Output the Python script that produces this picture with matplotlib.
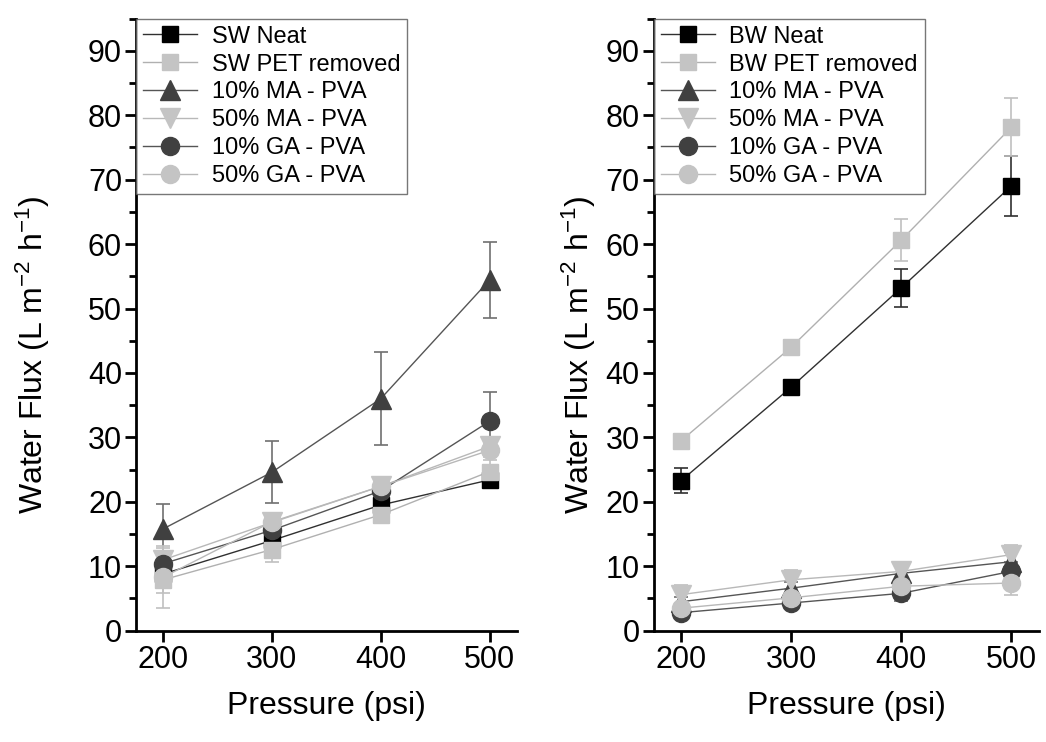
import matplotlib
matplotlib.use("Agg")
import matplotlib.pyplot as plt
from matplotlib.ticker import MultipleLocator

plt.rcParams['font.family'] = ['Liberation Sans', 'DejaVu Sans']
plt.rcParams['mathtext.default'] = 'regular'

pressure = [200, 300, 400, 500]

# seawater panel
sw_labels = ["SW Neat", "SW PET removed", "10% MA - PVA", "50% MA - PVA", "10% GA - PVA", "50% GA - PVA"]
sw_vals = [
    [8.8, 14.0, 19.5, 23.4],
    [7.9, 12.6, 18.0, 24.7],
    [15.8, 24.6, 36.0, 54.4],
    [11.0, 16.8, 22.4, 28.6],
    [10.4, 15.6, 21.7, 32.5],
    [8.3, 16.9, 22.4, 28.0],
]
sw_err = [
    [1.5, 1.6, 1.3, 0.8],
    [2.0, 1.9, 1.0, 1.8],
    [3.8, 4.8, 7.2, 5.9],
    [1.8, 1.2, 0.8, 1.4],
    [1.5, 1.0, 1.0, 4.5],
    [4.8, 1.0, 0.8, 1.0],
]

# brackish water panel
bw_labels = ["BW Neat", "BW PET removed", "10% MA - PVA", "50% MA - PVA", "10% GA - PVA", "50% GA - PVA"]
bw_vals = [
    [23.3, 37.8, 53.2, 69.0],
    [29.5, 44.0, 60.6, 78.1],
    [4.5, 6.6, 8.9, 10.7],
    [5.6, 7.9, 9.2, 11.8],
    [2.8, 4.3, 5.8, 9.2],
    [3.5, 5.1, 6.9, 7.4],
]
bw_err = [
    [1.9, 0.8, 3.0, 4.7],
    [0.6, 0.6, 3.3, 4.5],
    [0.8, 1.0, 1.0, 1.5],
    [1.5, 1.5, 1.0, 1.5],
    [0.5, 0.7, 1.2, 1.5],
    [0.8, 0.8, 0.8, 1.8],
]

markers = ['s', 's', '^', 'v', 'o', 'o']
mcolors = ['#000000', '#c4c4c4', '#404040', '#c4c4c4', '#404040', '#c4c4c4']
lcolors = ['#303030', '#b0b0b0', '#555555', '#b8b8b8', '#555555', '#b8b8b8']
ecolors = ['#303030', '#c0c0c0', '#707070', '#c0c0c0', '#707070', '#c0c0c0']
msizes = [12, 12, 15, 15, 13, 13]

fig = plt.figure(figsize=(10.46, 7.42), dpi=100)
ax1 = fig.add_axes([0.130, 0.150, 0.364, 0.825])
ax2 = fig.add_axes([0.625, 0.150, 0.368, 0.825])


def draw(ax, labels, vals, errs, ylab_x):
    handles = []
    for i in range(len(labels)):
        c = ax.errorbar(pressure, vals[i], yerr=errs[i], marker=markers[i], ms=msizes[i],
                        color=lcolors[i], mfc=mcolors[i], mec=mcolors[i], ecolor=ecolors[i],
                        elinewidth=1.2, capsize=5, capthick=1.2, lw=1.0, label=labels[i])
        handles.append(c[0])
    ax.set_xlim(175, 525)
    ax.set_ylim(0, 95)
    ax.set_xticks(pressure)
    ax.yaxis.set_major_locator(MultipleLocator(10))
    ax.yaxis.set_minor_locator(MultipleLocator(5))
    ax.spines['top'].set_visible(False)
    ax.spines['right'].set_visible(False)
    ax.spines['left'].set_linewidth(2)
    ax.spines['bottom'].set_linewidth(2)
    ax.tick_params(axis='both', which='major', direction='out', length=8, width=2,
                   labelsize=22, pad=2)
    ax.tick_params(axis='y', which='minor', direction='out', length=5, width=2)
    ax.set_xlabel("Pressure (psi)", fontsize=23, labelpad=12)
    ax.set_ylabel("Water Flux (L m$^{-2}$ h$^{-1}$)", fontsize=23)
    ax.yaxis.set_label_coords(ylab_x, 0.451)
    leg = ax.legend(handles, labels, loc='upper left', fontsize=17, frameon=True, fancybox=False,
                    edgecolor='#555555', borderaxespad=0.0, handlelength=2.3,
                    labelspacing=0.25, borderpad=0.3, handletextpad=0.6, numpoints=1)
    leg.get_frame().set_linewidth(1.0)


draw(ax1, sw_labels, sw_vals, sw_err, -0.22)
draw(ax2, bw_labels, bw_vals, bw_err, -0.145)

fig.savefig("out.png", dpi=100)
